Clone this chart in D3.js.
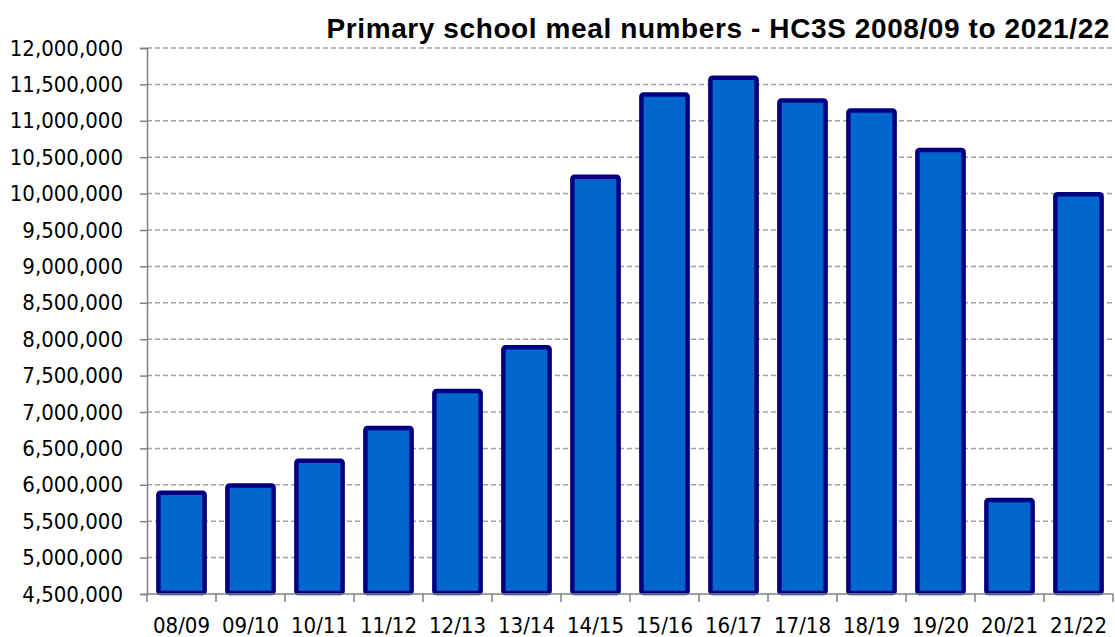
<!DOCTYPE html>
<html>
<head>
<meta charset="utf-8">
<script src="https://cdn.jsdelivr.net/npm/d3@7"></script>
<style>
  body { margin: 0; background: #fff; }
  svg { display: block; }
  .tick text { font-family: "DejaVu Sans Condensed", "DejaVu Sans", sans-serif; font-size: 22px; fill: #000; }
</style>
</head>
<body>
<div id="chart"></div>
<script>
// data
var years = ["08/09", "09/10", "10/11", "11/12", "12/13", "13/14", "14/15",
             "15/16", "16/17", "17/18", "18/19", "19/20", "20/21", "21/22"];
var meals = [5890000, 5990000, 6330000, 6780000, 7290000, 7890000, 10230000,
             11360000, 11590000, 11280000, 11140000, 10600000, 5790000, 9990000];
var yTicks = d3.range(4500000, 12000001, 500000);
var title = "Primary school meal numbers - HC3S 2008/09 to 2021/22";

var width = 1115, height = 637;
var margin = {top: 48, right: 2, bottom: 43, left: 147};

var svg = d3.select("#chart").append("svg")
    .attr("width", width)
    .attr("height", height);

var x = d3.scaleBand()
    .domain(years)
    .range([margin.left, width - margin.right])
    .paddingInner(0.33)
    .paddingOuter(0.165);

var y = d3.scaleLinear()
    .domain([4500000, 12000000])
    .range([height - margin.bottom, margin.top]);

// dashed gridlines
svg.append("g").selectAll("line")
    .data(yTicks.slice(1))
    .enter().append("line")
    .attr("x1", margin.left)
    .attr("x2", width)
    .attr("y1", function (d) { return y(d); })
    .attr("y2", function (d) { return y(d); })
    .attr("stroke", "#a0a0a0")
    .attr("stroke-width", 1.5)
    .attr("stroke-dasharray", "5,3");

// bars
svg.append("g").selectAll("rect")
    .data(meals)
    .enter().append("rect")
    .attr("x", function (d, i) { return x(years[i]); })
    .attr("y", function (d) { return y(d); })
    .attr("width", x.bandwidth())
    .attr("height", function (d) { return y(4500000) - y(d) - 1; })
    .attr("rx", 2)
    .attr("fill", "#0066CC")
    .attr("stroke", "#000080")
    .attr("stroke-width", 4.5);

// y axis
var yAxis = svg.append("g")
    .attr("transform", "translate(" + margin.left + ",0)")
    .call(d3.axisLeft(y).tickValues(yTicks).tickSize(7).tickPadding(17)
        .tickFormat(d3.format(",")));
yAxis.select(".domain").attr("stroke", "#808080").attr("stroke-width", 1.5);
yAxis.selectAll(".tick line").attr("stroke", "#808080").attr("stroke-width", 1.5);

// x axis, ticks on category boundaries
var bounds = d3.range(years.length + 1).map(function (i) {
    return margin.left + i * (width - margin.right - margin.left) / years.length;
});
var xg = svg.append("g")
    .attr("transform", "translate(0," + (height - margin.bottom) + ")");
xg.append("line")
    .attr("x1", margin.left).attr("x2", width - margin.right)
    .attr("stroke", "#808080").attr("stroke-width", 1.5);
xg.selectAll("line.tk")
    .data(bounds)
    .enter().append("line")
    .attr("class", "tk")
    .attr("x1", function (d) { return d; })
    .attr("x2", function (d) { return d; })
    .attr("y1", 0).attr("y2", 8)
    .attr("stroke", "#808080").attr("stroke-width", 1.5);
xg.selectAll("text")
    .data(years)
    .enter().append("text")
    .attr("x", function (d) { return x(d) + x.bandwidth() / 2; })
    .attr("y", 39)
    .attr("text-anchor", "middle")
    .style("font-family", "'DejaVu Sans Condensed', 'DejaVu Sans', sans-serif")
    .style("font-size", "22px")
    .text(function (d) { return d; });

// title
svg.append("text")
    .attr("x", 1110)
    .attr("y", 38)
    .attr("text-anchor", "end")
    .style("font-family", "'Liberation Sans', Arial, sans-serif")
    .style("font-weight", "bold")
    .style("font-size", "28px")
    .style("letter-spacing", "0.6px")
    .text(title);
</script>
</body>
</html>
